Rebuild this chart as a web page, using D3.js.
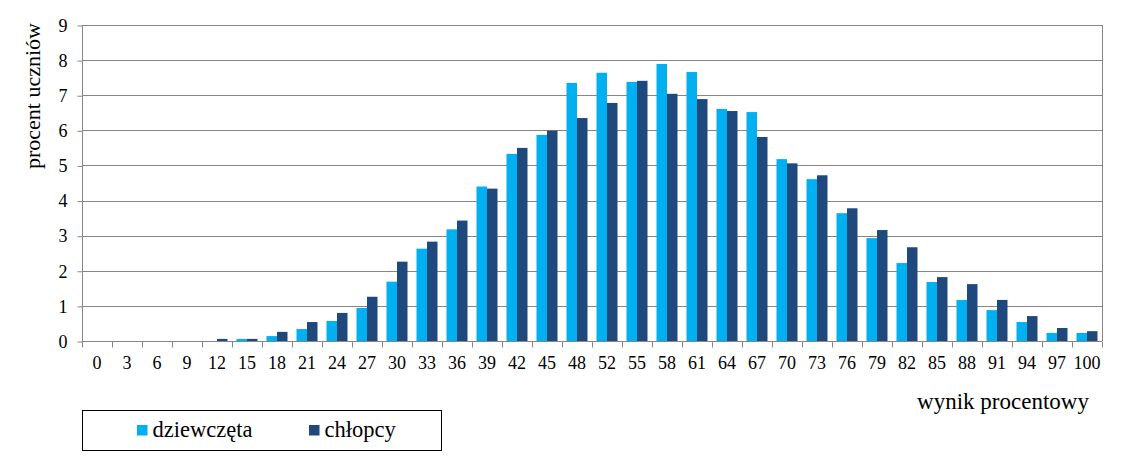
<!DOCTYPE html>
<html>
<head>
<meta charset="utf-8">
<script src="https://cdn.jsdelivr.net/npm/d3@7"></script>
<style>
  html, body { margin: 0; padding: 0; background: #fff; }
  svg { display: block; }
  svg text { font-family: 'Liberation Serif', Tinos, 'Times New Roman', Times, 'DejaVu Serif', serif !important; fill: #000; }
</style>
</head>
<body>
<svg id="chart" width="1122" height="472"></svg>
<script>
const categories = ["0","3","6","9","12","15","18","21","24","27","30","33","36","39","42","45","48","52","55","58","61","64","67","70","73","76","79","82","85","88","91","94","97","100"];
const girls = [0,0,0,0,0,0.06,0.14,0.34,0.57,0.94,1.69,2.63,3.18,4.40,5.33,5.87,7.35,7.64,7.38,7.89,7.66,6.61,6.52,5.18,4.61,3.64,2.93,2.22,1.68,1.17,0.88,0.54,0.23,0.23];
const boys = [0,0,0,0,0.06,0.06,0.26,0.54,0.80,1.26,2.26,2.83,3.43,4.34,5.50,5.99,6.35,6.78,7.41,7.04,6.89,6.55,5.81,5.06,4.72,3.78,3.16,2.67,1.82,1.62,1.17,0.71,0.37,0.28];
const seriesNames = ["dziewczęta", "chłopcy"];
const yTicks = [0,1,2,3,4,5,6,7,8,9];

const colors = ["#00B0F0", "#1F497D"];
const gridColor = "#868686";
const serif = "'Liberation Serif', Tinos, 'Times New Roman', Times, 'DejaVu Serif', serif";

const svg = d3.select("#chart");
const pLeft = 82, pRight = 1102, pTop = 25, pBottom = 341;

const x = d3.scaleBand().domain(categories).range([pLeft, pRight]).paddingInner(0.3).paddingOuter(0.15);
const xs = d3.scaleBand().domain(seriesNames).range([0, x.bandwidth()]);
const y = d3.scaleLinear().domain([0, 9]).range([pBottom, pTop]);

// gridlines
svg.append("g").selectAll("line").data(yTicks.filter(d => d > 0)).join("line")
  .attr("x1", pLeft).attr("x2", pRight)
  .attr("y1", d => Math.round(y(d)) + 0.5).attr("y2", d => Math.round(y(d)) + 0.5)
  .attr("stroke", gridColor).attr("stroke-width", 1);
// right border
svg.append("line").attr("x1", pRight + 0.5).attr("x2", pRight + 0.5)
  .attr("y1", pTop).attr("y2", pBottom).attr("stroke", gridColor);

// bars
const data = categories.map((c, i) => ({c, vals: [girls[i], boys[i]]}));
const groups = svg.append("g").selectAll("g").data(data).join("g")
  .attr("transform", d => `translate(${x(d.c)},0)`);
groups.selectAll("rect").data(d => d.vals.map((v, j) => ({v, s: seriesNames[j], j}))).join("rect")
  .attr("x", d => xs(d.s))
  .attr("width", xs.bandwidth())
  .attr("y", d => y(d.v))
  .attr("height", d => y(0) - y(d.v))
  .attr("fill", d => colors[d.j]);

// y axis
const yAxis = d3.axisLeft(y).tickValues(yTicks).tickSize(5).tickPadding(10).tickFormat(d3.format("d"));
const gy = svg.append("g").attr("transform", `translate(${pLeft + 0.5},0.5)`).call(yAxis)
  .attr("font-family", serif).attr("font-size", 18);
gy.select(".domain").attr("stroke", gridColor).attr("d", `M0,${pTop}V${pBottom + 5}`);
gy.selectAll(".tick line").attr("stroke", gridColor);
gy.selectAll(".tick text").attr("fill", "#000");

// x axis
const step = x.step();
const xAxis = d3.axisBottom(x).tickSize(0).tickPadding(15);
const gx = svg.append("g").attr("transform", `translate(0,${pBottom + 0.5})`).call(xAxis)
  .attr("font-family", serif).attr("font-size", 18);
gx.select(".domain").attr("stroke", gridColor).attr("d", `M${pLeft},0H${pRight}`);
gx.selectAll(".tick text").attr("fill", "#000");
// boundary ticks
const bounds = categories.map(c => x(c) - x.paddingInner() * step / 2).concat([pRight]);
gx.append("g").selectAll("line").data(bounds).join("line")
  .attr("x1", d => Math.round(d) + 0.5).attr("x2", d => Math.round(d) + 0.5)
  .attr("y1", 0).attr("y2", 6).attr("stroke", gridColor);

// axis titles
svg.append("text").attr("transform", `translate(40,96) rotate(-90)`)
  .attr("text-anchor", "middle").attr("font-size", 22).attr("font-family", serif).text("procent uczniów");
svg.append("text").attr("x", 1003).attr("y", 409)
  .attr("text-anchor", "middle").attr("font-size", 23).attr("font-family", serif).text("wynik procentowy");

// legend
const lg = svg.append("g");
lg.append("rect").attr("x", 82.5).attr("y", 410.5).attr("width", 359).attr("height", 40)
  .attr("fill", "none").attr("stroke", "#000").attr("stroke-width", 1);
const legendX = [137, 309];
seriesNames.forEach((n, i) => {
  lg.append("rect").attr("x", legendX[i]).attr("y", 425).attr("width", 10.5).attr("height", 10.5).attr("fill", colors[i]);
  lg.append("text").attr("x", legendX[i] + 15.5).attr("y", 437).attr("font-size", 22.5).attr("font-family", serif).text(n);
});
</script>
</body>
</html>
